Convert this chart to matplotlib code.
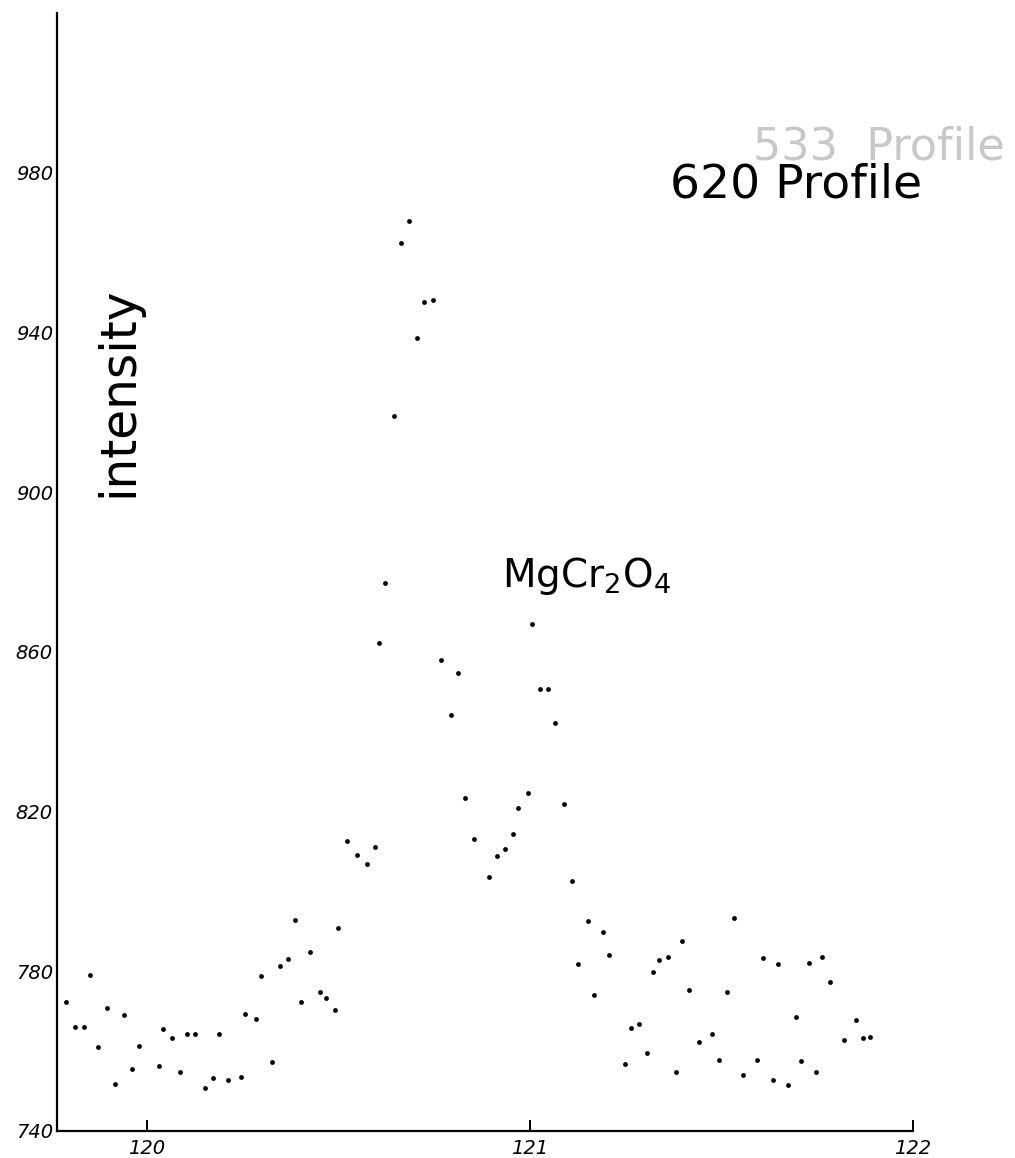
import matplotlib
matplotlib.use("Agg")
import matplotlib.pyplot as plt

plt.rcParams['mathtext.default'] = 'regular'

# 2-theta (deg) and counts
two_theta = [119.788, 119.812, 119.836, 119.851, 119.872, 119.895, 119.917, 119.940,
             119.960, 119.978, 120.031, 120.041, 120.065, 120.086, 120.105, 120.126,
             120.152, 120.173, 120.189, 120.211, 120.245, 120.256, 120.285, 120.298,
             120.326, 120.346, 120.367, 120.386, 120.402, 120.426, 120.452, 120.468,
             120.491, 120.499, 120.523, 120.549, 120.574, 120.595, 120.606, 120.622,
             120.645, 120.664, 120.683, 120.705, 120.723, 120.746, 120.768, 120.793,
             120.811, 120.830, 120.854, 120.893, 120.915, 120.936, 120.955, 120.969,
             120.994, 121.005, 121.026, 121.048, 121.066, 121.090, 121.109, 121.126,
             121.151, 121.168, 121.190, 121.206, 121.247, 121.265, 121.285, 121.305,
             121.321, 121.338, 121.360, 121.382, 121.398, 121.415, 121.441, 121.475,
             121.493, 121.514, 121.532, 121.555, 121.593, 121.608, 121.634, 121.648,
             121.673, 121.695, 121.708, 121.728, 121.747, 121.763, 121.783, 121.819,
             121.850, 121.869, 121.887]
intensity = [772.4, 766.1, 766.1, 779.1, 761.1, 770.8, 751.8, 769.1,
             755.6, 761.3, 756.2, 765.5, 763.3, 754.8, 764.2, 764.3,
             750.8, 753.3, 764.4, 752.8, 753.4, 769.4, 768.1, 778.9,
             757.3, 781.4, 783.1, 792.9, 772.3, 784.8, 774.8, 773.4,
             770.3, 790.8, 812.6, 809.1, 806.9, 811.2, 862.3, 877.3,
             919.0, 962.4, 968.0, 938.6, 947.5, 948.0, 858.0, 844.3,
             854.6, 823.5, 813.2, 803.6, 808.9, 810.7, 814.5, 821.0,
             824.6, 866.9, 850.8, 850.8, 842.2, 821.8, 802.7, 781.7,
             792.6, 774.1, 789.8, 784.0, 756.9, 765.8, 766.8, 759.6,
             779.8, 782.8, 783.7, 754.8, 787.7, 775.2, 762.2, 764.3,
             757.9, 774.9, 793.4, 754.0, 757.9, 783.3, 752.8, 781.7,
             751.4, 768.6, 757.5, 782.0, 754.8, 783.7, 777.2, 762.7,
             767.7, 763.4, 763.6]

xticks = [120, 121, 122]
yticks = [740, 780, 820, 860, 900, 940, 980]

fig = plt.figure(figsize=(10.15, 11.58), dpi=100)
ax = fig.add_axes([57 / 1015, 1 - 1131 / 1158, (913 - 57) / 1015, (1131 - 13) / 1158])

ax.scatter(two_theta, intensity, s=12, color='black', linewidths=0, zorder=3)

ax.set_xlim(119.765, 122.0)
ax.set_ylim(740.5, 1020)

for side in ['top', 'right']:
    ax.spines[side].set_visible(False)
for side in ['left', 'bottom']:
    ax.spines[side].set_linewidth(1.6)
    ax.spines[side].set_color('black')

ax.set_xticks(xticks)
ax.set_xticklabels([str(t) for t in xticks], fontstyle='italic', fontsize=14)
ax.set_yticks(yticks)
ax.set_yticklabels([str(t) for t in yticks], fontstyle='italic', fontsize=14)
ax.tick_params(axis='x', direction='in', length=8, width=1.4, pad=6)
ax.tick_params(axis='y', length=0, pad=3)

fig.text(118 / 1015, 1 - 392 / 1158, 'intensity', rotation=90, ha='center', va='center',
         fontsize=35)
fig.text(670 / 1015, 1 - 197 / 1158, '620 Profile', ha='left', va='baseline',
         fontsize=34)
fig.text(502 / 1015, 1 - 587 / 1158, 'MgCr$_2$O$_4$', ha='left', va='baseline',
         fontsize=28)
# faint bleed-through from the back of the sheet
fig.text(753 / 1015, 1 - 160 / 1158, '533  Profile', ha='left', va='baseline',
         fontsize=32, color='#c8c8c8', zorder=0)

fig.savefig('out.png', dpi=100)
